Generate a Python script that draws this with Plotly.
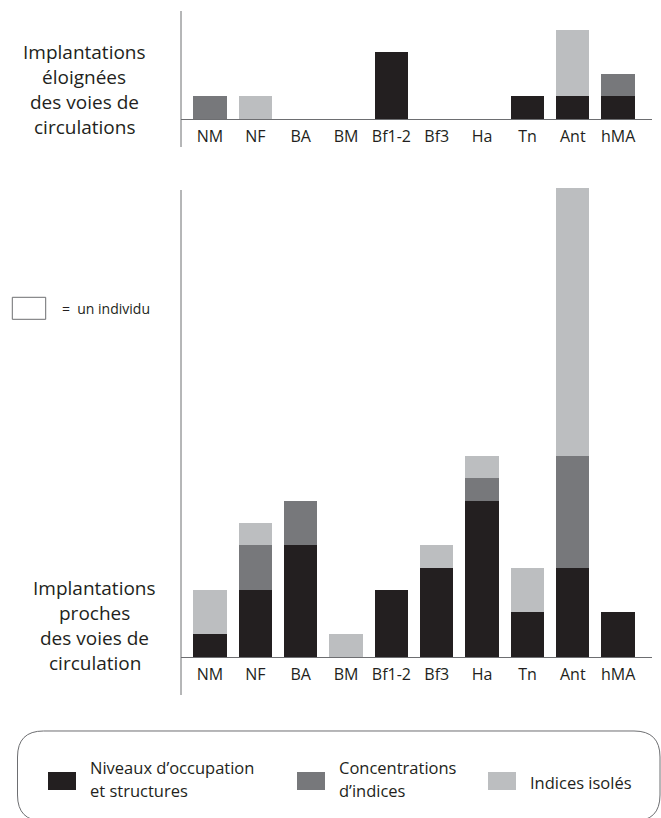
import re
import plotly.graph_objects as go

# ---------------- data (number of individuals) ----------------
categories = ["NM", "NF", "BA", "BM", "Bf1-2", "Bf3", "Ha", "Tn", "Ant", "hMA"]

# Top panel: implantations éloignées des voies de circulations
far_niveaux = [0, 0, 0, 0, 3, 0, 0, 1, 1, 1]
far_concentrations = [1, 0, 0, 0, 0, 0, 0, 0, 0, 1]
far_isoles = [0, 1, 0, 0, 0, 0, 0, 0, 3, 0]

# Bottom panel: implantations proches des voies de circulation
near_niveaux = [1, 3, 5, 0, 3, 4, 7, 2, 4, 2]
near_concentrations = [0, 2, 2, 0, 0, 0, 1, 0, 5, 0]
near_isoles = [2, 1, 0, 1, 0, 1, 1, 2, 12, 0]

series_names = ["Niveaux d’occupation<br>et structures", "Concentrations<br>d’indices", "Indices isolés"]
series_colors = ["#231f20", "#77787b", "#bcbec0"]

FONT = "Open Sans"
TXT = "#231f20"
LINE = "#6d6e71"
W, H = 661, 818
UNIT = 22.3  # px per individual

def py(p):
    return 1 - p / H

def px(p):
    return p / W

fig = go.Figure()

panels = [
    ("x", "y", [far_niveaux, far_concentrations, far_isoles]),
    ("x2", "y2", [near_niveaux, near_concentrations, near_isoles]),
]
for xa, ya, vals in panels:
    for name, color, v in zip(series_names, series_colors, vals):
        fig.add_trace(go.Bar(
            x=categories, y=v, name=name, marker=dict(color=color, line=dict(width=0)),
            width=0.735, xaxis=xa, yaxis=ya, showlegend=False,
        ))

# axis geometry (pixel layout)
X0, X1 = 181, 651.7
top_base, bot_base = 118.7, 656.7

def rng(base, p_top, p_bot):
    return [(base - p_bot) / UNIT, (base - p_top) / UNIT]

xcommon = dict(
    type="category", range=[-0.64, 9.74], domain=[px(X0), px(X1)],
    showline=True, linecolor=LINE, linewidth=1, ticks="", showgrid=False,
    zeroline=False, tickfont=dict(family=FONT, size=16, color=TXT),
    ticklabelstandoff=3, anchor="free", fixedrange=True,
)
fig.update_layout(
    width=W, height=H, margin=dict(l=0, r=0, t=0, b=0),
    paper_bgcolor="white", plot_bgcolor="rgba(0,0,0,0)",
    barmode="stack", bargap=0.265,
    xaxis=dict(**xcommon, position=py(top_base)),
    xaxis2=dict(**xcommon, position=py(bot_base)),
    yaxis=dict(domain=[py(150), py(5)], range=rng(top_base, 5, 150), visible=False,
               anchor="x", fixedrange=True),
    yaxis2=dict(domain=[py(700), py(182)], range=rng(bot_base, 182, 700), visible=False,
                anchor="x2", fixedrange=True),
    font=dict(family=FONT, color=TXT),
)

shapes = []
# vertical axis lines (extend below baseline as in the original)
shapes.append(dict(type="line", xref="paper", yref="paper", x0=px(X0), x1=px(X0),
                   y0=py(147), y1=py(11), line=dict(color=LINE, width=1)))
shapes.append(dict(type="line", xref="paper", yref="paper", x0=px(X0), x1=px(X0),
                   y0=py(695), y1=py(190), line=dict(color=LINE, width=1)))
# "= un individu" box
shapes.append(dict(type="rect", xref="paper", yref="paper", x0=px(12.3), x1=px(45.7),
                   y0=py(319.3), y1=py(297.3), line=dict(color=LINE, width=1), fillcolor="white"))
# legend rounded frame
lx0, lx1, ly0, ly1, r = 17.5, 660, 731, 821, 26
path = (f"M {lx0 + r},{ly0} L {lx1 - r},{ly0} Q {lx1},{ly0} {lx1},{ly0 + r} "
        f"L {lx1},{ly1 - r} Q {lx1},{ly1} {lx1 - r},{ly1} L {lx0 + r},{ly1} "
        f"Q {lx0},{ly1} {lx0},{ly1 - r} L {lx0},{ly0 + r} Q {lx0},{ly0} {lx0 + r},{ly0} Z")
def conv(m):
    a, b = float(m.group(1)), float(m.group(2))
    return f"{px(a):.5f},{py(b):.5f}"
path_paper = re.sub(r"([\d.]+),([\d.]+)", conv, path)
shapes.append(dict(type="path", xref="paper", yref="paper", path=path_paper,
                   line=dict(color=LINE, width=1)))

# legend swatches
sw_x = [48, 297, 488]
txt_x = [88, 337, 528]
for sx, color in zip(sw_x, series_colors):
    shapes.append(dict(type="rect", xref="paper", yref="paper", x0=px(sx), x1=px(sx + 28),
                       y0=py(790), y1=py(772), line=dict(width=0), fillcolor=color))
fig.update_layout(shapes=shapes)

ann = []
def text(x, y, s, size, anchor="center"):
    ann.append(dict(x=px(x), y=py(y), xref="paper", yref="paper", text=s, showarrow=False,
                    xanchor=anchor, yanchor="middle", font=dict(family=FONT, size=size, color=TXT),
                    align="left" if anchor == "left" else "center"))

for i, s in enumerate(["Implantations", "éloignées", "des voies de", "circulations"]):
    text(84, 51.7 + 25 * i, s, 19)
for i, s in enumerate(["Implantations", "proches", "des voies de", "circulation"]):
    text(95, 588.3 + 25 * i, s, 19)
text(60, 308.5, "=  un individu", 14, "left")

leg_lines = [["Niveaux d’occupation", "et structures"], ["Concentrations", "d’indices"], ["Indices isolés"]]
for tx, lines in zip(txt_x, leg_lines):
    if len(lines) == 2:
        text(tx, 767, lines[0], 16.5, "left")
        text(tx, 790, lines[1], 16.5, "left")
    else:
        text(tx, 782, lines[0], 16.5, "left")
fig.update_layout(annotations=ann)

fig.write_html("out.html", config={"displayModeBar": False},
               post_script="document.body.style.margin='0';document.body.style.overflow='hidden';")
